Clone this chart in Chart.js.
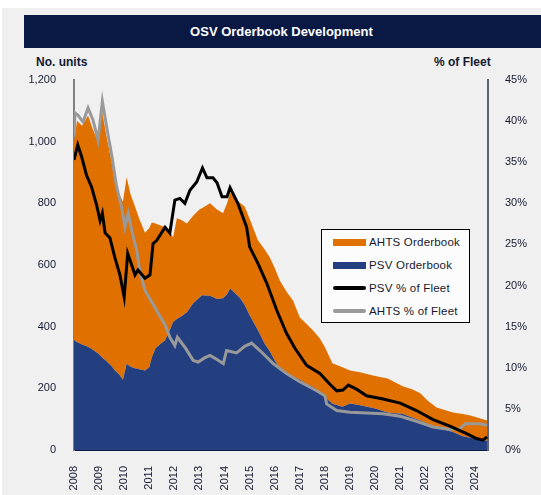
<!DOCTYPE html>
<html>
<head>
<meta charset="utf-8">
<script src="https://cdn.jsdelivr.net/npm/chart.js@4/dist/chart.umd.min.js"></script>
<style>
  body { margin: 0; width: 541px; height: 495px; position: relative; overflow: hidden; background: #fff; font-family: "Liberation Sans", Arial, sans-serif; }
  #panel { position: absolute; left: 2px; top: 8px; width: 539px; height: 487px; background: #f0f0f0; }
  #banner { position: absolute; left: 24px; top: 15px; width: 517px; height: 33px; background: #0a1944; color: #fff;
            font-weight: bold; font-size: 13px; line-height: 33px; text-align: center; text-indent: -2px; }
  .axis-title { position: absolute; top: 55px; font-weight: bold; font-size: 12px; color: #141a30; }
  #legend { position: absolute; left: 321px; top: 229px; width: 147px; height: 92px; border: 1.5px solid #000; background: #fcfcfc; }
  .item { position: absolute; left: 0; height: 14px; font-size: 11.5px; color: #141a30; letter-spacing: 0.2px; }
  .item span.sw { position: absolute; left: 11px; width: 33px; }
  .item span.tx { position: absolute; left: 47px; top: 0; white-space: nowrap; line-height: 14px; }
  canvas { position: absolute; left: 0; top: 0; }
</style>
</head>
<body>
<div id="panel"></div>
<div id="banner">OSV Orderbook Development</div>
<div class="axis-title" style="left:36px">No. units</div>
<div class="axis-title" style="left:434px">% of Fleet</div>
<canvas id="chart" width="541" height="495"></canvas>
<div id="legend">
  <div class="item" style="top:5px"><span class="sw" style="top:4px;height:7px;background:#e07000"></span><span class="tx">AHTS Orderbook</span></div>
  <div class="item" style="top:28px"><span class="sw" style="top:4px;height:7px;background:#233f80"></span><span class="tx">PSV Orderbook</span></div>
  <div class="item" style="top:51px"><span class="sw" style="top:5px;height:4px;background:#000;border-radius:2px"></span><span class="tx">PSV % of Fleet</span></div>
  <div class="item" style="top:74px"><span class="sw" style="top:5px;height:4px;background:#999;border-radius:2px"></span><span class="tx">AHTS % of Fleet</span></div>
</div>
<script>
// orderbook (units), shared time axis for the stacked areas
const obTimes = [2008.0, 2008.12, 2008.32, 2008.56, 2008.75, 2008.96, 2009.12, 2009.3, 2009.5, 2009.63,
  2009.8, 2009.95, 2010.1, 2010.25, 2010.43, 2010.6, 2010.83, 2011.0, 2011.1, 2011.25,
  2011.45, 2011.63, 2011.8, 2011.95, 2012.1, 2012.3, 2012.5, 2012.75, 2013.0, 2013.1,
  2013.42, 2013.7, 2013.94, 2014.1, 2014.22, 2014.4, 2014.6, 2014.8, 2015.0, 2015.33,
  2015.6, 2015.8, 2016.0, 2016.2, 2016.5, 2016.73, 2017.0, 2017.25, 2017.52, 2017.8,
  2018.0, 2018.3, 2018.7, 2019.0, 2019.4, 2020.0, 2020.5, 2021.1, 2021.5, 2021.8,
  2022.1, 2022.45, 2023.1, 2023.5, 2023.8, 2024.2, 2024.46];
const psvOrderbook = [356, 350, 342, 335, 325, 313, 300, 288, 272, 258,
  245, 228, 280, 270, 265, 262, 258, 268, 300, 330,
  345, 356, 385, 415, 425, 435, 447, 476, 495, 502,
  500, 490, 492, 505, 524, 510, 495, 470, 437, 388,
  345, 320, 290, 265, 248, 238, 229, 215, 205, 185,
  172, 150, 140, 151, 145, 135, 122, 117, 105, 96,
  85, 74, 58, 45, 40, 33, 30];
const ahtsOrderbook = [644, 718, 710, 750, 715, 687, 798, 727, 663, 608,
  585, 577, 605, 560, 525, 488, 447, 452, 438, 405,
  383, 367, 325, 275, 327, 310, 288, 284, 285, 282,
  300, 290, 276, 295, 311, 305, 308, 320, 313, 292,
  305, 305, 300, 285, 262, 247, 201, 195, 183, 177,
  161, 131, 128, 107, 107, 105, 110, 90, 91, 88,
  75, 64, 64, 72, 72, 69, 66];

// share of fleet (%)
const psvPctTimes = [2008.0, 2008.15, 2008.31, 2008.5, 2008.7, 2008.9, 2009.04, 2009.13, 2009.24, 2009.43,
  2009.63, 2009.83, 2010.0, 2010.14, 2010.3, 2010.43, 2010.55, 2010.83, 2011.03, 2011.15,
  2011.3, 2011.63, 2011.82, 2012.02, 2012.22, 2012.42, 2012.62, 2012.89, 2013.12, 2013.3,
  2013.54, 2013.7, 2013.9, 2014.1, 2014.22, 2014.53, 2014.88, 2015.0, 2015.33, 2015.68,
  2016.08, 2016.47, 2016.8, 2017.27, 2017.8, 2018.2, 2018.47, 2018.72, 2018.93, 2019.26,
  2019.66, 2020.32, 2021.0, 2021.65, 2022.31, 2022.98, 2023.65, 2024.04, 2024.3, 2024.46];
const psvPct = [35.3, 37.1, 35.6, 33.4, 32.0, 29.8, 27.9, 28.8, 26.4, 25.8,
  23.4, 21.3, 18.6, 23.9, 22.5, 21.3, 21.9, 20.9, 21.3, 25.1,
  25.5, 27.1, 26.4, 30.4, 30.6, 30.0, 31.6, 32.6, 34.3, 33.1,
  33.1, 32.5, 30.8, 30.8, 31.9, 30.0, 27.1, 24.7, 22.7, 20.3,
  17.0, 14.2, 12.4, 10.3, 9.3, 8.0, 7.2, 7.3, 7.9, 7.4,
  6.6, 6.2, 5.7, 4.8, 3.7, 2.9, 2.0, 1.4, 1.2, 1.6];
const ahtsPctTimes = [2008.0, 2008.04, 2008.16, 2008.36, 2008.56, 2008.76, 2008.96, 2009.13, 2009.3, 2009.5,
  2009.7, 2009.9, 2010.03, 2010.16, 2010.3, 2010.5, 2010.63, 2010.83, 2011.1, 2011.36,
  2011.63, 2011.82, 2012.02, 2012.12, 2012.42, 2012.75, 2012.95, 2013.2, 2013.42, 2013.7,
  2013.95, 2014.08, 2014.48, 2014.8, 2015.08, 2015.41, 2015.94, 2016.47, 2017.0, 2017.67,
  2018.0, 2018.07, 2018.47, 2019.0, 2019.67, 2020.32, 2021.0, 2021.65, 2022.31, 2022.98,
  2023.38, 2023.6, 2024.18, 2024.46];
const ahtsPct = [38.1, 41.0, 40.7, 39.9, 41.6, 40.1, 37.7, 42.4, 39.3, 35.9,
  32.0, 29.5, 27.1, 28.8, 26.7, 24.3, 21.6, 19.4, 18.0, 16.6,
  15.2, 13.7, 12.7, 13.7, 12.5, 10.9, 10.7, 11.2, 11.5, 11.0,
  10.5, 12.1, 11.8, 12.6, 13.0, 12.1, 10.5, 9.3, 8.3, 7.2,
  6.6, 5.6, 4.8, 4.6, 4.5, 4.4, 4.1, 3.5, 2.8, 2.5,
  2.6, 3.2, 3.2, 3.0];

const unitTicks = [0, 200, 400, 600, 800, 1000, 1200];
const pctTicks = [0, 5, 10, 15, 20, 25, 30, 35, 40, 45];

function pairs(xs, ys) {
    return xs.map((x, i) => ({ x: x, y: ys[i] }));
}

const tickFont = { family: "'Liberation Sans', Arial, sans-serif", size: 11 };
const tickColor = '#141a30';

const ctx = document.getElementById('chart').getContext('2d');

new Chart(ctx, {
    type: 'line',
    data: {
        datasets: [
            {
                label: 'PSV % of Fleet',
                data: pairs(psvPctTimes, psvPct),
                yAxisID: 'y1',
                borderColor: '#000000',
                borderWidth: 3,
                pointRadius: 0,
                fill: false
            }, {
                label: 'AHTS % of Fleet',
                data: pairs(ahtsPctTimes, ahtsPct),
                yAxisID: 'y1',
                borderColor: '#999999',
                borderWidth: 3,
                pointRadius: 0,
                fill: false
            }, {
                label: 'PSV Orderbook',
                data: pairs(obTimes, psvOrderbook),
                yAxisID: 'y',
                borderWidth: 0,
                borderColor: 'rgba(0,0,0,0)',
                backgroundColor: '#233f80',
                pointRadius: 0,
                fill: 'origin'
            }, {
                label: 'AHTS Orderbook',
                data: pairs(obTimes, ahtsOrderbook),
                yAxisID: 'y',
                borderWidth: 0,
                borderColor: 'rgba(0,0,0,0)',
                backgroundColor: '#e07000',
                pointRadius: 0,
                fill: '-1'
            }
        ]
    },
    options: {
        responsive: false,
        animation: false,
        layout: { padding: { top: 80, left: 0, right: 0, bottom: 0 } },
        elements: { line: { tension: 0 } },
        scales: {
            x: {
                type: 'linear',
                min: 2008,
                max: 2024.5,
                grid: { display: false },
                border: { display: true, color: '#0a1944', width: 2 },
                ticks: {
                    stepSize: 1,
                    includeBounds: false,
                    autoSkip: false,
                    minRotation: 90,
                    maxRotation: 90,
                    padding: 8,
                    font: tickFont,
                    color: tickColor,
                    callback: (v) => String(v)
                },
                afterFit: (scale) => { scale.height = 45; }
            },
            y: {
                position: 'left',
                stacked: true,
                min: unitTicks[0],
                max: unitTicks[unitTicks.length - 1],
                grid: { display: false },
                border: { display: true, color: '#808080', width: 2 },
                ticks: {
                    stepSize: 200,
                    padding: 10,
                    font: tickFont,
                    color: tickColor,
                    callback: (v) => v.toLocaleString('en-US')
                },
                afterFit: (scale) => { scale.width = 74; }
            },
            y1: {
                position: 'right',
                min: pctTicks[0],
                max: pctTicks[pctTicks.length - 1],
                grid: { display: false },
                border: { display: true, color: '#5d6474', width: 2 },
                ticks: {
                    stepSize: 5,
                    padding: 9,
                    font: tickFont,
                    color: tickColor,
                    callback: (v) => v + '%'
                },
                afterFit: (scale) => { scale.width = 53; }
            }
        },
        plugins: {
            legend: { display: false },
            title: { display: false },
            tooltip: { enabled: false }
        }
    }
});
</script>
</body>
</html>
